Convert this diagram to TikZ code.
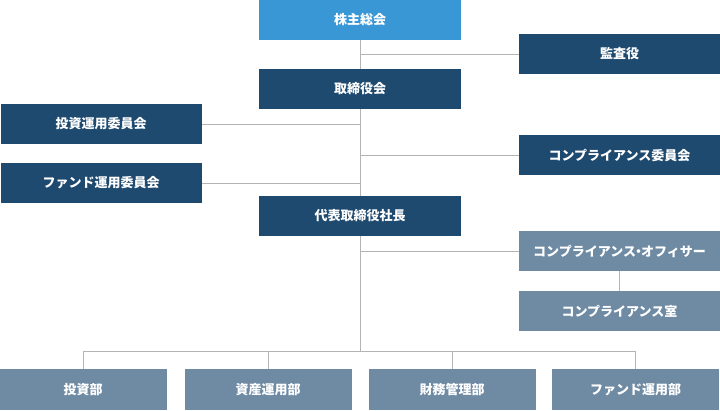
\documentclass[tikz,border=0pt]{standalone}
\usepackage{fontspec}
\setmainfont{Noto Sans CJK JP}
\usepackage{tikz}
\usetikzlibrary{positioning}
\definecolor{skyBlue}{HTML}{3A97D6}
\definecolor{navyBlue}{HTML}{1F4A70}
\definecolor{greyBlue}{HTML}{6F8BA4}
\definecolor{lineGrey}{HTML}{B4B4B4}
\tikzstyle{line} = [draw=lineGrey, line width=1pt]
\tikzstyle{boxBase} = [rectangle, inner sep=0pt, minimum height=40pt, text=white, font=\fontsize{13}{15}\selectfont\bfseries, text centered]
\tikzstyle{topBox} = [boxBase, fill=skyBlue, minimum width=202pt]
\tikzstyle{darkBox} = [boxBase, fill=navyBlue, minimum width=202pt]
\tikzstyle{sideBox} = [boxBase, fill=navyBlue, minimum width=201pt]
\tikzstyle{greyBox} = [boxBase, fill=greyBlue, minimum width=201pt]
\tikzstyle{deptBox} = [boxBase, fill=greyBlue, minimum width=167pt, minimum height=41pt]

\begin{document}
\begin{tikzpicture}[x=1pt, y=-1pt]
				\useasboundingbox (0,0) rectangle (720,410);
				% main column
				\node (meeting) [topBox] at (360,20) {株主総会};
				\node (board) [darkBox] at (360,89) {取締役会};
				\node (ceo) [darkBox] at (360,216) {代表取締役社長};
				% side boxes
				\node (auditor) [sideBox] at (619.5,54) {監査役};
				\node (investCom) [sideBox] at (101,124) {投資運用委員会};
				\node (fundCom) [sideBox] at (101,183) {ファンド運用委員会};
				\node (compCom) [sideBox] at (619.5,155) {コンプライアンス委員会};
				\node (officer) [greyBox] at (619.5,251) {コンプライアンス\hspace{-4pt}・\hspace{-4pt}オフィサー};
				\node (compRoom) [greyBox] at (619.5,311) {コンプライアンス室};
				% departments
				\node (invest) [deptBox] at (83,389.5) {投資部};
				\node (asset) [deptBox] at (268,389.5) {資産運用部};
				\node (finance) [deptBox] at (452,389.5) {財務管理部};
				\node (fundDept) [deptBox] at (635.5,389.5) {ファンド運用部};
				\coordinate (split) at (360,351);
				% connectors
				\draw [line] (meeting) -- (board);
				\draw [line] (board) -- (ceo);
				\draw [line] (ceo) -- (split);
				\draw [line] (meeting.south |- auditor) -- (auditor);
				\draw [line] (investCom) -- (investCom -| board.south);
				\draw [line] (fundCom) -- (fundCom -| board.south);
				\draw [line] (compCom -| board.south) -- (compCom);
				\draw [line] (officer -| ceo.south) -- (officer);
				\draw [line] (officer) -- (compRoom);
				\draw [line] (invest.north |- split) -- (fundDept.north |- split);
				\draw [line] (invest.north |- split) -- (invest);
				\draw [line] (asset.north |- split) -- (asset);
				\draw [line] (finance.north |- split) -- (finance);
				\draw [line] (fundDept.north |- split) -- (fundDept);
			\end{tikzpicture}
\end{document}
